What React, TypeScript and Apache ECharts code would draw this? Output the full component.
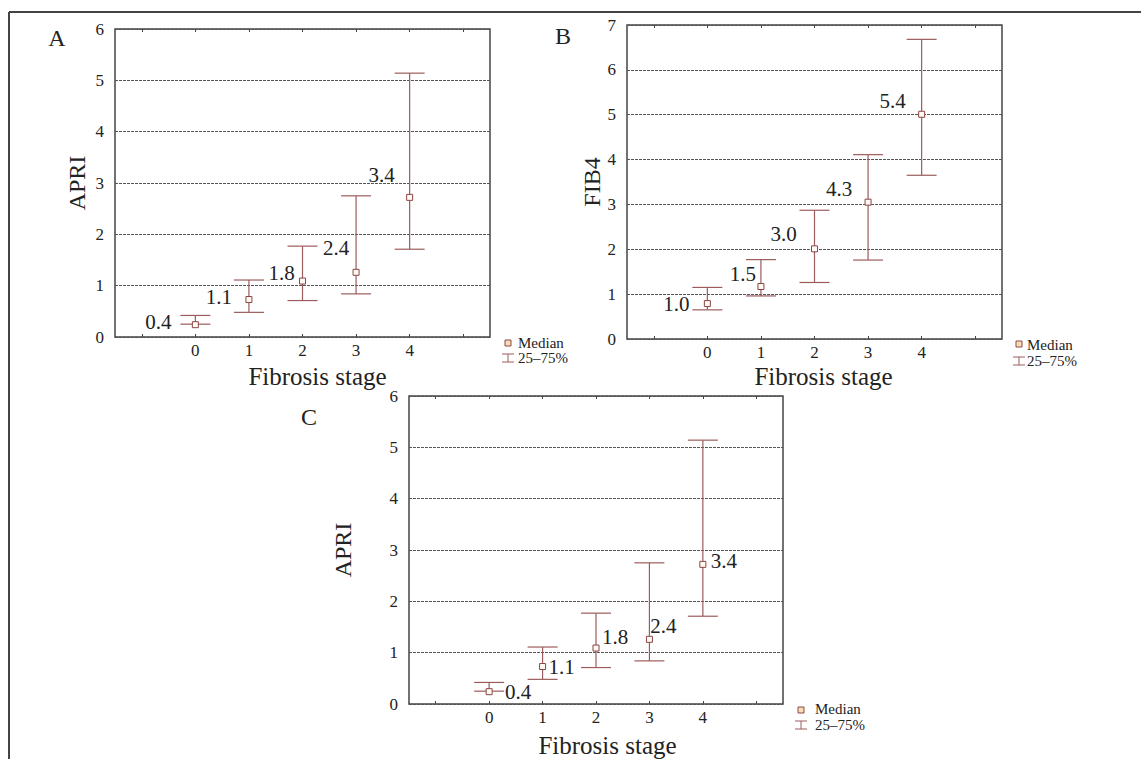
import React, { useEffect, useRef } from "react";
import * as echarts from "echarts";

const stages = [0, 1, 2, 3, 4];
const xTickValues = [-1, 0, 1, 2, 3, 4, 5];

const apriMedian = [0.24, 0.73, 1.09, 1.26, 2.72];
const apriQ1 = [0.25, 0.48, 0.71, 0.84, 1.71];
const apriQ3 = [0.42, 1.11, 1.77, 2.75, 5.14];
const apriLabels = ["0.4", "1.1", "1.8", "2.4", "3.4"];

const fib4Median = [0.79, 1.17, 2.01, 3.05, 5.01];
const fib4Q1 = [0.65, 0.96, 1.26, 1.76, 3.65];
const fib4Q3 = [1.15, 1.77, 2.87, 4.11, 6.68];
const fib4Labels = ["1.0", "1.5", "3.0", "4.3", "5.4"];

const legendMedian = "Median";
const legendRange = "25–75%";

const FONT = "Liberation Serif";
const BAR = "#9c5c5c";
const TXT = "#222";

type Panel = {
  letter: string;
  letterPos: [number, number];
  grid: { left: number; top: number; width: number; height: number };
  yMax: number;
  yName: string;
  yNameGap: number;
  xNameGap: number;
  xNamePad: number;
  median: number[];
  q1: number[];
  q3: number[];
  labels: string[];
  labelOffsets: [number, number][];
  legend: { sq: [number, number]; textX: number; y1: number; y2: number };
};

const panels: Panel[] = [
  {
    letter: "A",
    letterPos: [57, 38],
    grid: { left: 115, top: 29, width: 375, height: 308 },
    yMax: 6,
    yName: "APRI",
    yNameGap: 26,
    xNameGap: 27,
    xNamePad: 30,
    median: apriMedian,
    q1: apriQ1,
    q3: apriQ3,
    labels: apriLabels,
    labelOffsets: [[-37, -3], [-30, -3], [-21, -8], [-20, -24], [-28, -22]],
    legend: { sq: [508, 343], textX: 518, y1: 343, y2: 358 },
  },
  {
    letter: "B",
    letterPos: [563, 36],
    grid: { left: 627, top: 25, width: 375, height: 314 },
    yMax: 7,
    yName: "FIB4",
    yNameGap: 21,
    xNameGap: 25,
    xNamePad: 18,
    median: fib4Median,
    q1: fib4Q1,
    q3: fib4Q3,
    labels: fib4Labels,
    labelOffsets: [[-31, 0], [-18, -13], [-31, -15], [-29, -13], [-29, -13]],
    legend: { sq: [1019, 344], textX: 1027, y1: 345, y2: 361 },
  },
  {
    letter: "C",
    letterPos: [309, 417],
    grid: { left: 409, top: 396, width: 374, height: 309 },
    yMax: 6,
    yName: "APRI",
    yNameGap: 54,
    xNameGap: 29,
    xNamePad: 23,
    median: apriMedian,
    q1: apriQ1,
    q3: apriQ3,
    labels: apriLabels,
    labelOffsets: [[29, 0], [19, 0], [19, -11], [14, -13], [21, -3]],
    legend: { sq: [801, 710], textX: 815, y1: 709, y2: 725 },
  },
];

function textStyle(text: string, size: number, extra: any = {}) {
  return { text, fontFamily: FONT, fontSize: size, fill: TXT, ...extra };
}

function legendGraphics(p: Panel): any[] {
  const [sx, sy] = p.legend.sq;
  const cy = p.legend.y2;
  return [
    {
      type: "rect",
      shape: { x: sx - 3, y: sy - 3, width: 6, height: 6 },
      style: { fill: "#f7dcb4", stroke: "#8b4a4a", lineWidth: 1 },
    },
    {
      type: "text",
      x: p.legend.textX,
      y: p.legend.y1,
      style: textStyle(legendMedian, 15, { verticalAlign: "middle" }),
    },
    { type: "line", shape: { x1: sx - 6, y1: cy - 4, x2: sx + 6, y2: cy - 4 }, style: { stroke: BAR, lineWidth: 1 } },
    { type: "line", shape: { x1: sx, y1: cy - 4, x2: sx, y2: cy + 4 }, style: { stroke: BAR, lineWidth: 1 } },
    { type: "line", shape: { x1: sx - 6, y1: cy + 4, x2: sx + 6, y2: cy + 4 }, style: { stroke: BAR, lineWidth: 1 } },
    {
      type: "text",
      x: p.legend.textX,
      y: p.legend.y2,
      style: textStyle(legendRange, 15, { verticalAlign: "middle" }),
    },
  ];
}

export default function App() {
  const ref = useRef<HTMLDivElement>(null);
  useEffect(() => {
    document.body.style.margin = "0";
    if (!ref.current) return;
    const chart = echarts.init(ref.current, undefined, { renderer: "svg" });

    const grids: any[] = [];
    const xAxes: any[] = [];
    const yAxes: any[] = [];
    const series: any[] = [];
    const graphics: any[] = [
      { type: "line", shape: { x1: 9, y1: 12, x2: 1141, y2: 12 }, style: { stroke: "#444", lineWidth: 2 } },
      { type: "line", shape: { x1: 9, y1: 12, x2: 9, y2: 759 }, style: { stroke: "#444", lineWidth: 2 } },
    ];

    panels.forEach((p, i) => {
      grids.push({
        left: p.grid.left,
        top: p.grid.top,
        width: p.grid.width,
        height: p.grid.height,
        show: true,
        borderColor: "#444",
        borderWidth: 1.5,
        backgroundColor: "transparent",
        containLabel: false,
      });
      xAxes.push({
        type: "value",
        gridIndex: i,
        position: "bottom",
        min: -1.5,
        max: 5.5,
        name: "Fibrosis stage",
        nameLocation: "middle",
        nameGap: p.xNameGap,
        nameTextStyle: { fontFamily: FONT, fontSize: 25, color: TXT, padding: [0, 0, 0, p.xNamePad] },
        axisLine: { show: false },
        axisTick: { show: true, inside: true, length: 3, customValues: xTickValues, lineStyle: { color: "#444" } },
        axisLabel: { show: true, customValues: stages, margin: 5, fontFamily: FONT, fontSize: 17, color: TXT },
        splitLine: { show: false },
      });
      xAxes.push({
        type: "value",
        gridIndex: i,
        position: "top",
        min: -1.5,
        max: 5.5,
        axisLine: { show: false },
        axisTick: { show: true, inside: true, length: 3, customValues: xTickValues, lineStyle: { color: "#444" } },
        axisLabel: { show: false },
        splitLine: { show: false },
      });
      yAxes.push({
        type: "value",
        gridIndex: i,
        min: 0,
        max: p.yMax,
        interval: 1,
        name: p.yName,
        nameLocation: "middle",
        nameRotate: 90,
        nameGap: p.yNameGap,
        nameTextStyle: { fontFamily: FONT, fontSize: 24, color: TXT },
        axisLine: { show: false },
        axisTick: { show: false },
        axisLabel: { margin: 11, fontFamily: FONT, fontSize: 17, color: TXT },
        splitLine: { show: true, lineStyle: { color: "#555", type: [3, 1], width: 1 } },
      });

      series.push({
        type: "custom",
        xAxisIndex: i * 2,
        yAxisIndex: i,
        z: 3,
        encode: { x: 0, y: [1, 2] },
        data: stages.map((s, k) => [s, p.q1[k], p.q3[k]]),
        renderItem: (params: any, api: any) => {
          const x = api.value(0);
          const lo = api.coord([x, api.value(1)]);
          const hi = api.coord([x, api.value(2)]);
          const hw = 15;
          const st = { stroke: BAR, lineWidth: 1.2 };
          return {
            type: "group",
            children: [
              { type: "line", shape: { x1: lo[0], y1: lo[1], x2: hi[0], y2: hi[1] }, style: st },
              { type: "line", shape: { x1: hi[0] - hw, y1: hi[1], x2: hi[0] + hw, y2: hi[1] }, style: st },
              { type: "line", shape: { x1: lo[0] - hw, y1: lo[1], x2: lo[0] + hw, y2: lo[1] }, style: st },
            ],
          };
        },
      });

      series.push({
        type: "scatter",
        xAxisIndex: i * 2,
        yAxisIndex: i,
        z: 5,
        symbol: "rect",
        symbolSize: 6,
        itemStyle: { color: "#fffaf3", borderColor: "#8b4545", borderWidth: 1, opacity: 1 },
        data: stages.map((s, k) => ({
          value: [s, p.median[k]],
          label: { offset: p.labelOffsets[k] },
        })),
        label: {
          show: true,
          position: "inside",
          formatter: (d: any) => p.labels[d.dataIndex],
          fontFamily: FONT,
          fontSize: 21,
          color: TXT,
        },
        emphasis: { disabled: true },
      });

      graphics.push({
        type: "text",
        x: p.letterPos[0],
        y: p.letterPos[1],
        style: textStyle(p.letter, 24, { align: "center", verticalAlign: "middle" }),
      });
      graphics.push(...legendGraphics(p));
    });

    chart.setOption({
      animation: false,
      backgroundColor: "#fff",
      textStyle: { fontFamily: FONT },
      grid: grids,
      xAxis: xAxes,
      yAxis: yAxes,
      series,
      graphic: graphics,
    });
    return () => chart.dispose();
  }, []);
  return <div ref={ref} style={{ width: 1141, height: 759 }} />;
}
